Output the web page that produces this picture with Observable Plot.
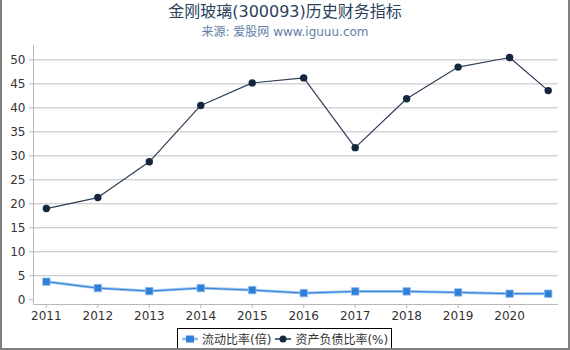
<!DOCTYPE html>
<html>
<head>
<meta charset="utf-8">
<script src="https://cdn.jsdelivr.net/npm/d3@7"></script>
<script src="https://cdn.jsdelivr.net/npm/@observablehq/plot@0.6"></script>
<style>
  html, body { margin: 0; padding: 0; background: #fff; }
  #wrap { position: relative; width: 570px; height: 350px; overflow: hidden; font-family: "DejaVu Sans", "Noto Sans CJK SC", sans-serif; }
  #frame { position: absolute; left: 0; top: -3px; width: 566px; height: 351px; border: 2px solid #808080; border-top: none; pointer-events: none; }
  #title { position: absolute; left: 0; width: 570px; top: 1px; text-align: center; font-size: 16px; color: #2c3f5c; line-height: 22px; }
  #subtitle { position: absolute; left: 0; width: 570px; top: 23px; text-align: center; font-size: 12px; color: #5f7ea6; line-height: 18px; }
  #chart { position: absolute; left: 0; top: 0; }
  #legend { position: absolute; left: 177px; top: 328px; width: 213px; height: 19px; border: 1px solid #000; display: flex; align-items: center; font-size: 12px; color: #333; background: #fff; }
  #legend .item { display: flex; align-items: center; margin-left: 4px; }
  #legend svg { margin-right: 4px; }
</style>
</head>
<body>
<div id="wrap">
  <div id="title">金刚玻璃(300093)历史财务指标</div>
  <div id="subtitle">来源: 爱股网 www.iguuu.com</div>
  <div id="chart"></div>
  <div id="legend"></div>
  <div id="frame"></div>
</div>
<script>
// ---- data ----
const periods = [2011, 2012, 2013, 2014, 2015, 2016, 2017, 2018, 2019, 2020, 2020.75];
const currentRatio = [3.75, 2.42, 1.79, 2.42, 2.0, 1.38, 1.73, 1.73, 1.52, 1.25, 1.25];
const debtRatio = [19.0, 21.3, 28.75, 40.5, 45.2, 46.25, 31.7, 41.9, 48.5, 50.5, 43.6];
const xTickYears = [2011, 2012, 2013, 2014, 2015, 2016, 2017, 2018, 2019, 2020];
const yTicks = [0, 5, 10, 15, 20, 25, 30, 35, 40, 45, 50];
const seriesNames = ["流动比率(倍)", "资产负债比率(%)"];

const cur = periods.map((p, i) => ({x: p, y: currentRatio[i]}));
const debt = periods.map((p, i) => ({x: p, y: debtRatio[i]}));

const xDomain = [2010.75, 2020.95];
const yDomain = [-1, 53];

const blue = "#2f7fd9";
const navy = "#15263f";

const chart = Plot.plot({
  width: 570,
  height: 330,
  marginLeft: 33,
  marginRight: 12,
  marginTop: 45,
  marginBottom: 26,
  style: {fontFamily: "DejaVu Sans", fontSize: "12px", color: "#333", background: "transparent"},
  x: {domain: xDomain, label: null},
  y: {domain: yDomain, label: null},
  marks: [
    Plot.ruleY(yTicks.filter(d => d > 0), {stroke: "#c0c0c0", strokeWidth: 1}),
    Plot.ruleX([xDomain[0]], {stroke: "#b8b8b8"}),
    Plot.ruleY([yDomain[0]], {stroke: "#b8b8b8"}),
    Plot.axisX({ticks: xTickYears, tickFormat: d => String(d), tickSize: 4, tickPadding: 3, stroke: "#b8b8b8", fill: "#333", fontSize: 12, label: null}),
    Plot.axisY({ticks: yTicks, tickSize: 4, tickPadding: 4, stroke: "#b8b8b8", fill: "#333", fontSize: 12, label: null}),
    Plot.line(cur, {x: "x", y: "y", stroke: "#a9cbf0", strokeWidth: 3}),
    Plot.line(cur, {x: "x", y: "y", stroke: "#3a86da", strokeWidth: 1.2}),
    Plot.dot(cur, {x: "x", y: "y", symbol: "square", r: 4.2, fill: blue, stroke: "#8fbbea", strokeWidth: 0.8}),
    Plot.line(debt, {x: "x", y: "y", stroke: "#2e3f57", strokeWidth: 1.2}),
    Plot.dot(debt, {x: "x", y: "y", symbol: "circle", r: 3.7, fill: navy})
  ]
});
document.getElementById("chart").appendChild(chart);

// legend
const legend = document.getElementById("legend");
const markers = [
  `<svg width="16" height="10"><line x1="0" y1="5" x2="16" y2="5" stroke="#8fbbea" stroke-width="2.5"/><rect x="4" y="1.5" width="8" height="7" fill="${blue}"/></svg>`,
  `<svg width="16" height="10"><line x1="0" y1="5" x2="16" y2="5" stroke="#5a6a80" stroke-width="2"/><circle cx="8" cy="5" r="3.5" fill="${navy}"/></svg>`
];
seriesNames.forEach((name, i) => {
  const it = document.createElement("div");
  it.className = "item";
  it.innerHTML = markers[i] + `<span>${name}</span>`;
  legend.appendChild(it);
});
</script>
</body>
</html>
